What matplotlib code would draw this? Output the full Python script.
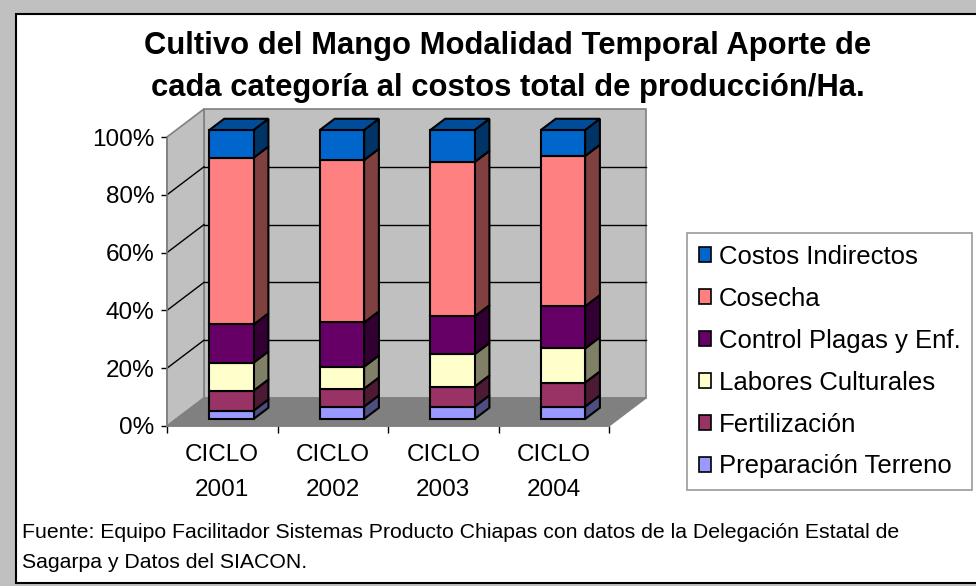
import matplotlib.pyplot as plt
from matplotlib.patches import Polygon, Rectangle, Patch
from matplotlib.ticker import FuncFormatter, FixedLocator
import numpy as np

plt.rcParams['font.family'] = ['Liberation Sans', 'DejaVu Sans']

categories = ['CICLO\n2001', 'CICLO\n2002', 'CICLO\n2003', 'CICLO\n2004']

# series from the bottom of the stack to the top (percent of total cost)
preparacion = [2.9, 4.3, 4.3, 4.3]
fertilizacion = [6.9, 6.2, 6.9, 8.3]
labores = [9.7, 7.6, 11.2, 11.8]
control = [13.2, 15.3, 13.1, 14.6]
cosecha = [57.7, 56.2, 53.4, 52.0]
indirectos = [9.6, 10.4, 11.1, 9.0]

names = ['Preparación Terreno', 'Fertilización', 'Labores Culturales',
         'Control Plagas y Enf.', 'Cosecha', 'Costos Indirectos']
front_cols = ['#9999ff', '#993366', '#ffffcc', '#660066', '#ff8080', '#0066cc']
side_cols = ['#4d4d80', '#4d1a33', '#808066', '#330033', '#804040', '#003366']
top_col = '#004c99'

series = np.array([preparacion, fertilizacion, labores, control, cosecha, indirectos])
series = series / series.sum(axis=0) * 100

W, H = 976, 586
fig = plt.figure(figsize=(W / 100, H / 100), dpi=100)
fig.patch.set_facecolor('#c0c0c0')
fig.add_artist(Rectangle((16 / W, 3 / H), 1.0, 569 / H, transform=fig.transFigure,
                         facecolor='white', edgecolor='black', lw=1.5, zorder=-10))

# front plane of the 3D box
ax = fig.add_axes([167 / W, (H - 426) / H, 442 / W, 289 / H])
ax.set_xlim(0, len(categories))
ax.set_ylim(0, 100)
ax.patch.set_alpha(0)

DX, DY = 37 / 110.5, 9.7        # depth of the box in data units
F0, BD, BW = 0.25, 0.4, 0.4     # bar front depth, bar depth, bar width
n = len(categories)

# walls and floor
ax.add_patch(Polygon([(0, 0), (n, 0), (n + DX, DY), (DX, DY)], closed=True,
                     facecolor='#808080', edgecolor='#808080', lw=1, clip_on=False, zorder=0.5))
ax.add_patch(Polygon([(DX, DY), (n + DX, DY), (n + DX, 100 + DY), (DX, 100 + DY)], closed=True,
                     facecolor='#c0c0c0', edgecolor='#808080', lw=1.2, clip_on=False, zorder=0.4))
ax.add_patch(Polygon([(0, 0), (DX, DY), (DX, 100 + DY), (0, 100)], closed=True,
                     facecolor='#c0c0c0', edgecolor='#808080', lw=1.2, clip_on=False, zorder=0.4))
for g in [20, 40, 60, 80]:
    ax.plot([DX, n + DX], [g + DY, g + DY], color='black', lw=1, clip_on=False, zorder=0.6)
    ax.plot([0, DX], [g, g + DY], color='black', lw=1, clip_on=False, zorder=0.6)

# bars
for i in range(n):
    x0 = i + 0.5 - BW / 2 + F0 * DX
    base = F0 * DY
    bottom = 0
    for s in range(len(series)):
        h = series[s][i]
        b = bottom + base
        xr = x0 + BW
        ax.add_patch(Polygon([(xr, b), (xr + BD * DX, b + BD * DY),
                              (xr + BD * DX, b + h + BD * DY), (xr, b + h)], closed=True,
                             facecolor=side_cols[s], edgecolor='black', lw=1.5,
                             clip_on=False, zorder=3))
        ax.add_patch(Rectangle((x0, b), BW, h, facecolor=front_cols[s], edgecolor='black',
                               lw=1.5, clip_on=False, zorder=4))
        bottom += h
    t = bottom + base
    ax.add_patch(Polygon([(x0, t), (x0 + BW, t), (x0 + BW + BD * DX, t + BD * DY),
                          (x0 + BD * DX, t + BD * DY)], closed=True,
                         facecolor=top_col, edgecolor='black', lw=1.5, clip_on=False, zorder=4))

# axes
for sp in ['top', 'right']:
    ax.spines[sp].set_visible(False)
for sp in ['left', 'bottom']:
    ax.spines[sp].set_color('#808080')
    ax.spines[sp].set_linewidth(1.2)
ax.set_yticks([0, 20, 40, 60, 80, 100])
ax.yaxis.set_major_formatter(FuncFormatter(lambda v, p: f'{v:.0f}%'))
ax.tick_params(axis='y', direction='out', length=4, width=1, labelsize=17.5, pad=5)
ax.xaxis.set_major_locator(FixedLocator(np.arange(n + 1)))
ax.xaxis.set_minor_locator(FixedLocator(np.arange(n) + 0.5))
ax.set_xticklabels([], minor=False)
ax.set_xticklabels(categories, minor=True, fontsize=17.5, linespacing=1.75)
ax.tick_params(axis='x', which='major', direction='out', length=5, width=1)
ax.tick_params(axis='x', which='minor', length=0, pad=13)

# title
fig.text(508 / W, 1 - 54 / H, 'Cultivo del Mango Modalidad Temporal Aporte de',
         ha='center', va='baseline', fontsize=22.3, fontweight='bold')
fig.text(508 / W, 1 - 96 / H, 'cada categoría al costos total de producción/Ha.',
         ha='center', va='baseline', fontsize=22.3, fontweight='bold')

# legend
handles = [Patch(facecolor=front_cols[s], edgecolor='black', lw=1.2, label=names[s])
           for s in reversed(range(len(names)))]
leg = fig.legend(handles=handles, loc='upper left', bbox_to_anchor=(687 / W, 1 - 233 / H),
                 fontsize=18.5, frameon=True, fancybox=False, edgecolor='#808080',
                 handlelength=0.5, handleheight=0.5, handletextpad=0.3,
                 labelspacing=0.7, borderpad=0.45, borderaxespad=0)
leg.get_frame().set_linewidth(1.2)

# source note
fig.text(22 / W, 1 - 538 / H,
         'Fuente: Equipo Facilitador Sistemas Producto Chiapas con datos de la Delegación Estatal de',
         ha='left', va='baseline', fontsize=15.3)
fig.text(22 / W, 1 - 568 / H, 'Sagarpa y Datos del SIACON.',
         ha='left', va='baseline', fontsize=15.3)

fig.savefig('out.png', dpi=100, facecolor=fig.get_facecolor())
